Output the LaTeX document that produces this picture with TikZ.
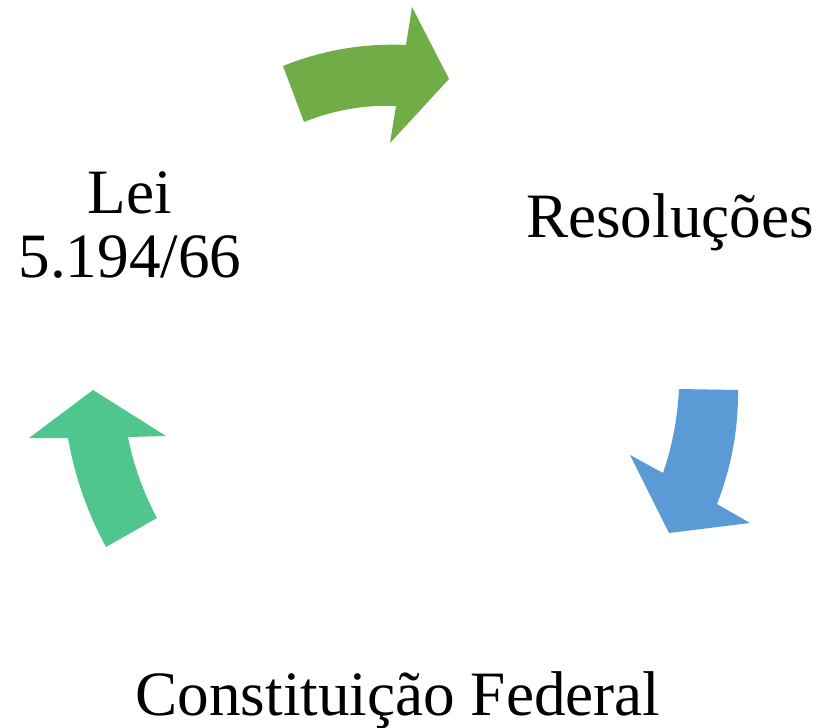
\documentclass[tikz,border=0pt]{standalone}
\usepackage{fontspec}
\setmainfont{Liberation Serif}
\usetikzlibrary{positioning}

\definecolor{arrgreen}{HTML}{70AD47}
\definecolor{arrblue}{HTML}{5B9BD5}
\definecolor{arrteal}{HTML}{4FC68E}

\begin{document}
\begin{tikzpicture}[x=0.5pt,y=-0.5pt,
    label/.style={font=\fontsize{31.6}{31.7}\selectfont, inner sep=0pt, align=center}]
            \useasboundingbox (0,0) rectangle (822,727);
            % green arrow, top
            \coordinate (G1) at (283,66);
            \coordinate (G2) at (406,45);
            \coordinate (G3) at (412,7);
            \coordinate (G4) at (449,79);
            \coordinate (G5) at (390,143);
            \coordinate (G6) at (396,106);
            \coordinate (G7) at (304,122);
            \fill[arrgreen] (G1) .. controls (322.5,50.1) and (363.5,43.1) .. (G2)
                -- (G3) -- (G4) -- (G5) -- (G6)
                .. controls (364.2,104.7) and (333.6,110.1) .. (G7) -- cycle;
            % blue arrow, right
            \coordinate (B1) at (679,389);
            \coordinate (B2) at (738,390);
            \coordinate (B3) at (717,504);
            \coordinate (B4) at (750,523);
            \coordinate (B5) at (669,533);
            \coordinate (B6) at (630,455);
            \coordinate (B7) at (663,473);
            \fill[arrblue] (B1) -- (B2) .. controls (738.4,429.3) and (731.4,467.3) .. (B3)
                -- (B4) -- (B5) -- (B6) -- (B7)
                .. controls (672.3,446) and (677.5,418) .. (B1) -- cycle;
            % teal arrow, left
            \coordinate (T1) at (93,390);
            \coordinate (T2) at (166,436);
            \coordinate (T3) at (128,437);
            \coordinate (T4) at (157,518);
            \coordinate (T5) at (106,547);
            \coordinate (T6) at (68,438);
            \coordinate (T7) at (29,438);
            \fill[arrteal] (T1) -- (T2) -- (T3)
                .. controls (133.8,465.8) and (143.4,492.8) .. (T4)
                -- (T5) .. controls (87.5,513) and (74.8,476.6) .. (T6)
                -- (T7) -- cycle;
            % texts
            \node[label, anchor=base] (lei) at (130,277) {Lei\\5.194/66};
            \node[label, anchor=base] (resol) at (670,237) {Resoluções};
            \node[label, anchor=base] (const) at (398,715) {Constituição Federal};
        \end{tikzpicture}
\end{document}
